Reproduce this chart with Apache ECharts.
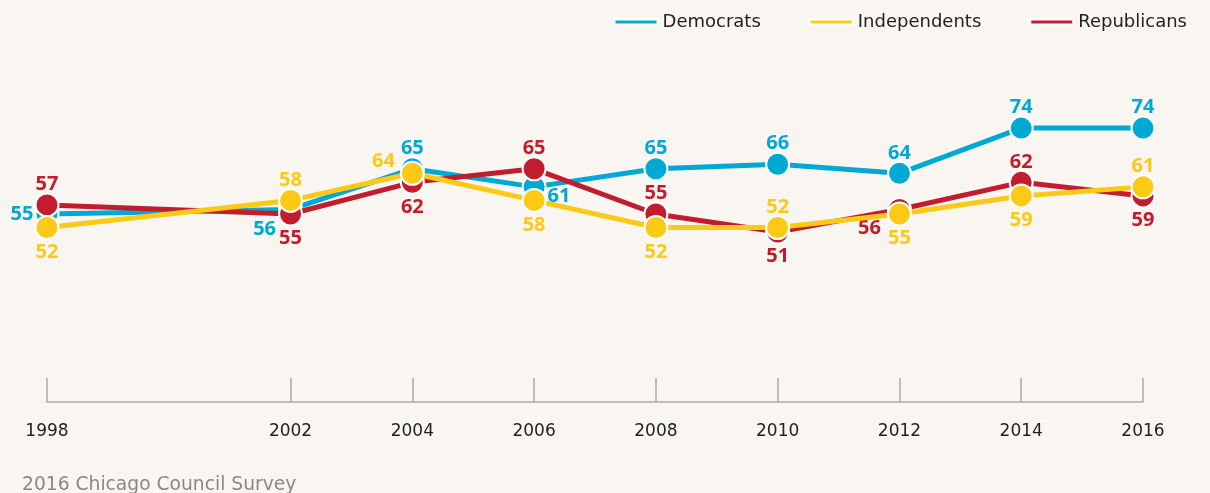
<!DOCTYPE html>
<html>
<head>
<meta charset="utf-8">
<script src="https://cdn.jsdelivr.net/npm/echarts@6/dist/echarts.min.js"></script>
<style>
  html, body { margin: 0; padding: 0; background: #f9f6f1; }
  #chart { width: 1210px; height: 493px; }
</style>
</head>
<body>
<div id="chart"></div>
<script>
// survey years and shares per party
const years = [1998, 2002, 2004, 2006, 2008, 2010, 2012, 2014, 2016]
const democrats = [55, 56, 65, 61, 65, 66, 64, 74, 74]
const independents = [52, 58, 64, 58, 52, 52, 55, 59, 61]
const republicans = [57, 55, 62, 65, 55, 51, 56, 62, 59]

// where each value label sits (style only)
const demPos = ['left', 'bl', 'top', 'r2', 'top', 'top', 'top', 'top', 'top']
const indPos = ['bottom', 'top', 'tl', 'bottom', 'bottom', 'top', 'bottom', 'bottom', 'top']
const repPos = ['top', 'bottom', 'bottom', 'top', 'top', 'bottom', 'bl2', 'top', 'bottom']

const FONT = '"Noto Sans", sans-serif'
const WIDE = '"DejaVu Sans", sans-serif'
const posStyle = {
  left: { position: 'left', distance: 1 },
  top: { position: 'top', distance: -2 },
  bottom: { position: 'bottom', distance: 2 },
  bl: { position: 'left', distance: 2, offset: [0, 20] },
  bl2: { position: 'left', distance: 6, offset: [0, 19] },
  r2: { position: 'right', distance: 1, offset: [0, 9] },
  tl: { position: 'left', distance: 5, offset: [0, -12] }
}

const buildData = (vals, pos) => vals.map((v, i) => ({
  value: [years[i], v],
  label: posStyle[pos[i]]
}))

const makeSeries = (name, color, vals, pos, z) => ({
  name: name,
  type: 'line',
  z: z,
  data: buildData(vals, pos),
  symbol: 'circle',
  symbolSize: 23,
  lineStyle: { color: color, width: 5 },
  itemStyle: { color: color, borderColor: '#ffffff', borderWidth: 2 },
  label: {
    show: true,
    color: color,
    fontFamily: FONT,
    fontWeight: 'bold',
    fontSize: 20,
    formatter: p => p.value[1]
  },
  emphasis: { disabled: true }
})

const chart = echarts.init(document.getElementById('chart'))

chart.setOption({
  backgroundColor: '#f9f6f1',
  animation: false,
  title: {
    text: '2016 Chicago Council Survey',
    left: 17,
    top: 471,
    textStyle: { color: '#8a8885', fontSize: 18.7, fontWeight: 'normal', fontFamily: WIDE }
  },
  legend: {
    right: 18,
    top: 8,
    itemWidth: 43,
    itemHeight: 5,
    itemGap: 48,
    icon: 'rect',
    textStyle: { color: '#222', fontSize: 18, fontFamily: WIDE },
    data: ['Democrats', 'Independents', 'Republicans']
  },
  grid: { left: 47, right: 67, top: 101, bottom: 91 },
  xAxis: {
    type: 'value',
    min: 1998,
    max: 2016,
    axisLine: { lineStyle: { color: '#aaaaaa', width: 1.5 } },
    axisTick: {
      show: true,
      inside: true,
      length: 24,
      customValues: years,
      lineStyle: { color: '#aaaaaa', width: 1.5 }
    },
    axisLabel: {
      customValues: years,
      color: '#222',
      fontSize: 17,
      fontFamily: WIDE,
      margin: 21,
      formatter: v => String(v)
    },
    splitLine: { show: false }
  },
  yAxis: {
    type: 'value',
    min: 13.4,
    max: 80,
    show: false
  },
  series: [
    makeSeries('Democrats', '#00a9d3', democrats, demPos, 2),
    makeSeries('Republicans', '#c21d2e', republicans, repPos, 3),
    makeSeries('Independents', '#fcc917', independents, indPos, 4)
  ]
})
</script>
</body>
</html>
